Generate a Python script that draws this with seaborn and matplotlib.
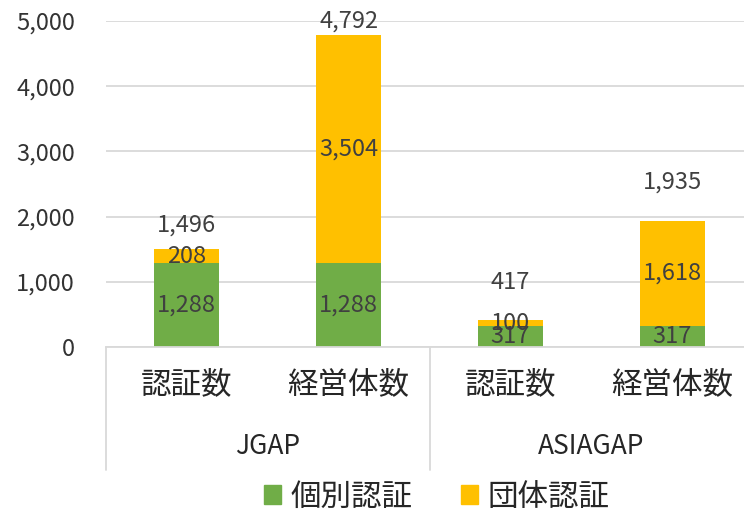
import numpy as np
import matplotlib.pyplot as plt
import seaborn as sns
from matplotlib.patches import Patch

groups = ['JGAP', 'JGAP', 'ASIAGAP', 'ASIAGAP']
categories = ['認証数', '経営体数', '認証数', '経営体数']
individual = [1288, 1288, 317, 317]
collective = [208, 3504, 100, 1618]
totals = [1496, 4792, 417, 1935]
series_names = ['個別認証', '団体認証']

green = '#70AD47'
yellow = '#FFC000'
grid_c = '#D9D9D9'
text_c = '#404040'

sns.set_theme(style='white')
plt.rcParams['font.family'] = ['Noto Sans CJK JP', 'DejaVu Sans']

fig = plt.figure(figsize=(7.44, 5.16), dpi=100)
ax = fig.add_axes([105.5 / 744, 1 - 347 / 516, 1 - 105.5 / 744, (347 - 21) / 516])

x = np.arange(len(categories))
# yellow drawn to the total, green overlaid at the bottom
sns.barplot(x=x, y=totals, color=yellow, width=0.4, saturation=1, linewidth=0,
            ax=ax, native_scale=True)
sns.barplot(x=x, y=individual, color=green, width=0.4, saturation=1, linewidth=0,
            ax=ax, native_scale=True)

ax.set_ylim(0, 5000)
ax.set_xlim(-0.5, (744 - 105.5) / 162 - 0.5)
ax.set_yticks(np.arange(0, 5001, 1000))
ax.set_yticklabels([f'{v:,}' for v in range(0, 5001, 1000)], fontsize=17, color='#333333')
ax.tick_params(axis='y', length=0, pad=22)
ax.set_xticks([])
ax.yaxis.grid(True, color=grid_c, lw=1.3)
ax.set_axisbelow(True)
for s in ['left', 'right', 'top']:
    ax.spines[s].set_visible(False)
ax.spines['bottom'].set_color(grid_c)
ax.spines['bottom'].set_linewidth(1.3)

# data labels
for i in x:
    ax.text(i, individual[i] / 2, f'{individual[i]:,}', ha='center', va='center',
            fontsize=17, color=text_c)
    ax.text(i, individual[i] + collective[i] / 2, f'{collective[i]:,}', ha='center',
            va='center', fontsize=17, color=text_c)
total_offsets = [24, 13, 37, 39]
for i in x:
    ax.annotate(f'{totals[i]:,}', (i, totals[i]), xytext=(0, total_offsets[i] * 0.72),
                textcoords='offset points', ha='center', va='center', fontsize=17, color=text_c)

# two-level category axis
tr = ax.get_xaxis_transform()
for i in x:
    ax.text(i, -(385 - 347) / 326, categories[i], transform=tr, ha='center', va='center',
            fontsize=22, color='#262626')
group_names = list(dict.fromkeys(groups))
for g in group_names:
    idx = [i for i in x if groups[i] == g]
    ax.text(np.mean(idx), -(447 - 347) / 326, g, transform=tr, ha='center', va='center',
            fontsize=19, color='#262626')
for sx in [-0.5, 1.5, 3.5]:
    ax.plot([sx, sx], [0, -(470 - 347) / 326], transform=tr, color=grid_c, lw=1.3, clip_on=False)

handles = [Patch(color=green), Patch(color=yellow)]
fig.legend(handles, series_names, loc='center', bbox_to_anchor=(0.587, 1 - 497 / 516),
           ncol=2, frameon=False, fontsize=22, handlelength=0.55, handleheight=0.55,
           handletextpad=0.3, columnspacing=1.6)

fig.savefig('out.png', dpi=100)
